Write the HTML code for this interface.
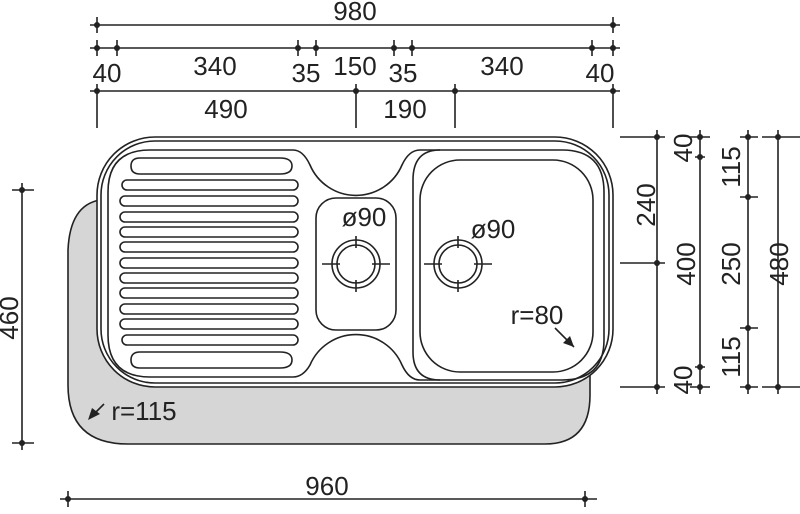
<!DOCTYPE html>
<html><head><meta charset="utf-8"><style>
html,body{margin:0;padding:0;background:#fff;}
svg{display:block}
text{font-family:"Liberation Sans",Arial,sans-serif;font-size:26px;fill:#222;}
</style></head><body>
<svg width="800" height="514" viewBox="0 0 800 514" xmlns="http://www.w3.org/2000/svg">
<g stroke="#222" stroke-width="1.6" fill="none">
<!-- shadow -->
<path d="M100,200 Q70,205 68,250 V385 Q68,444 128,444 H545 Q590,444 590,395 V300 H100 Z" fill="#d6d6d6" stroke="none"/>
<path d="M100,200 Q70,205 68,250 V385 Q68,444 128,444 H545 Q590,444 590,395 V370"/>
<!-- sink rims -->
<rect x="97" y="137" width="516" height="250" rx="58" fill="#fff"/>
<rect x="101" y="141" width="508" height="242" rx="54"/>
<!-- deck outline -->
<path d="M150,150 H293 Q303,150 310,165 A50,50 0 0 0 402,165 Q409,150 420,150 H562 Q604,150 604,192 V340 Q604,380 562,380 H420 Q409,380 402,365 A50,50 0 0 0 310,365 Q303,377 293,377 H150 Q108,377 108,335 V192 Q108,150 150,150 Z"/>
<!-- right bowl -->
<path d="M413,180 Q413,150 440,150 M413,180 V352 Q413,380 440,380"/>
<rect x="420" y="160" width="173" height="212" rx="40"/>
<!-- middle bowl -->
<rect x="316" y="198" width="80" height="132" rx="20"/>
<!-- grooves -->
<path d="M140,158 H280 Q292,158 292,166 Q292,174 280,174 H140 Q131,174 131,166 Q131,158 140,158 Z"/>
<rect x="122" y="180" width="176" height="10" rx="5"/>
<rect x="120" y="196" width="178" height="10" rx="5"/>
<rect x="120" y="212" width="178" height="10" rx="5"/>
<rect x="120" y="227" width="178" height="10" rx="5"/>
<rect x="120" y="242" width="178" height="10" rx="5"/>
<rect x="120" y="258" width="178" height="10" rx="5"/>
<rect x="120" y="273" width="178" height="10" rx="5"/>
<rect x="120" y="288" width="178" height="10" rx="5"/>
<rect x="120" y="304" width="178" height="10" rx="5"/>
<rect x="120" y="319" width="178" height="10" rx="5"/>
<rect x="122" y="335" width="176" height="10" rx="5"/>
<path d="M140,352 H280 Q292,352 292,360 Q292,368 280,368 H140 Q131,368 131,360 Q131,352 140,352 Z"/>
<!-- drains -->
<circle cx="356" cy="264" r="24"/><circle cx="356" cy="264" r="19"/>
<path d="M356,236 V248 M356,280 V292 M322,264 H340 M372,264 H390"/>
<circle cx="458" cy="264" r="24"/><circle cx="458" cy="264" r="19"/>
<path d="M458,236 V248 M458,280 V292 M424,264 H442 M474,264 H492"/>
<!-- arrows -->
<path d="M555,328 L574,347"/>
<path d="M92,416 L104,404"/>
<!-- top dims -->
<path d="M90,25 H620"/>
<path d="M97,17 V33 M613,17 V33"/>
<path d="M90,48 H620"/>
<path d="M97,40 V56 M117,40 V56 M298,40 V56 M316,40 V56 M394,40 V56 M412,40 V56 M592,40 V56 M613,40 V56"/>
<path d="M90,91 H620"/>
<path d="M97,84 V128 M356,84 V128 M455,84 V128 M613,84 V128"/>
<!-- right dims -->
<path d="M620,137 H665 M620,263 H665 M620,387 H665 M657,130 V394"/>
<path d="M690,137 H710 M690,387 H710 M700,130 V394 M695,157 H705 M695,367 H705"/>
<path d="M740,137 H758 M740,387 H758 M748,130 V394 M740,197 H758 M740,328 H758"/>
<path d="M762,137 H800 M762,387 H800 M778,130 V394"/>
<!-- left & bottom -->
<path d="M12,190 H34 M12,443 H34 M22,183 V450"/>
<path d="M60,499 H597 M68,491 V507 M585,491 V507"/>
</g>
<g fill="#222">
<path d="M574,347 L563,343 L570,336 Z"/>
<path d="M88,420 L92,408 L100,414 Z"/>
<circle cx="97" cy="25" r="3"/><circle cx="613" cy="25" r="3"/>
<circle cx="97" cy="48" r="3"/><circle cx="117" cy="48" r="3"/><circle cx="298" cy="48" r="3"/><circle cx="316" cy="48" r="3"/><circle cx="394" cy="48" r="3"/><circle cx="412" cy="48" r="3"/><circle cx="592" cy="48" r="3"/><circle cx="613" cy="48" r="3"/>
<circle cx="97" cy="91" r="3"/><circle cx="356" cy="91" r="3"/><circle cx="455" cy="91" r="3"/><circle cx="613" cy="91" r="3"/>
<circle cx="657" cy="137" r="3"/><circle cx="657" cy="263" r="3"/><circle cx="657" cy="387" r="3"/>
<circle cx="700" cy="137" r="3"/><circle cx="700" cy="157" r="3"/><circle cx="700" cy="367" r="3"/><circle cx="700" cy="387" r="3"/>
<circle cx="748" cy="137" r="3"/><circle cx="748" cy="197" r="3"/><circle cx="748" cy="328" r="3"/><circle cx="748" cy="387" r="3"/>
<circle cx="778" cy="137" r="3"/><circle cx="778" cy="387" r="3"/>
<circle cx="22" cy="190" r="3"/><circle cx="22" cy="443" r="3"/>
<circle cx="68" cy="499" r="3"/><circle cx="585" cy="499" r="3"/>
</g>
<text x="355" y="20" text-anchor="middle">980</text>
<text x="107" y="82" text-anchor="middle">40</text>
<text x="215" y="75" text-anchor="middle">340</text>
<text x="306" y="82" text-anchor="middle">35</text>
<text x="355" y="75" text-anchor="middle">150</text>
<text x="403" y="82" text-anchor="middle">35</text>
<text x="502" y="75" text-anchor="middle">340</text>
<text x="600" y="82" text-anchor="middle">40</text>
<text x="226" y="118" text-anchor="middle">490</text>
<text x="405" y="118" text-anchor="middle">190</text>
<text x="364" y="226" text-anchor="middle">ø90</text>
<text x="493" y="238" text-anchor="middle">ø90</text>
<text x="537" y="324" text-anchor="middle">r=80</text>
<text x="144" y="420" text-anchor="middle">r=115</text>
<text x="327" y="495" text-anchor="middle">960</text>
<text transform="translate(655,205) rotate(-90)" text-anchor="middle">240</text>
<text transform="translate(695,264) rotate(-90)" text-anchor="middle">400</text>
<text transform="translate(692,148) rotate(-90)" text-anchor="middle">40</text>
<text transform="translate(692,380) rotate(-90)" text-anchor="middle">40</text>
<text transform="translate(740,167) rotate(-90)" text-anchor="middle">115</text>
<text transform="translate(740,264) rotate(-90)" text-anchor="middle">250</text>
<text transform="translate(740,357) rotate(-90)" text-anchor="middle">115</text>
<text transform="translate(788,264) rotate(-90)" text-anchor="middle">480</text>
<text transform="translate(18,318) rotate(-90)" text-anchor="middle">460</text>
</svg>
</body></html>
